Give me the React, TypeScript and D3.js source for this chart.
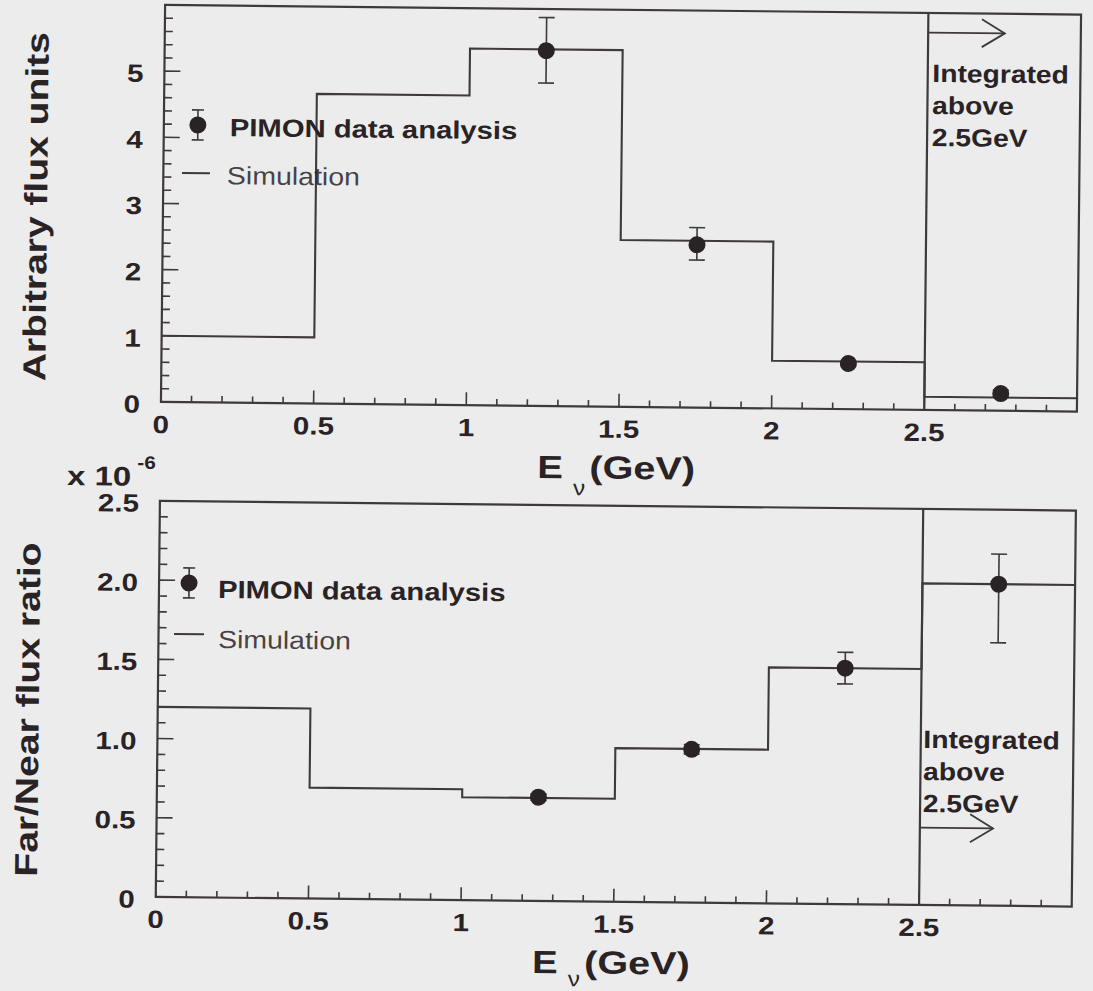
import React from 'react';
import * as d3 from 'd3';

// Energy binning (GeV); the last bin holds everything integrated above 2.5 GeV
const binEdges = [0, 0.5, 1.0, 1.5, 2.0, 2.5, 3.0];
const dataEnergies = [1.25, 1.75, 2.25, 2.75];

// Upper panel: arbitrary flux units
const fluxSimulation = [1.0, 4.68, 5.39, 2.52, 0.72, 0.2];
const fluxData = [5.37, 2.46, 0.69, 0.26];
const fluxErrUp = [0.5, 0.26, 0.03, 0.05];
const fluxErrDown = [0.49, 0.23, 0.03, 0.05];

// Lower panel: far/near flux ratio (x 10^-6)
const ratioSimulation = [1.2, 0.7, 0.65, 0.97, 1.49, 2.03];
const ratioData = [0.655, 0.967, 1.49, 2.03];
const ratioErrUp = [0.02, 0.03, 0.1, 0.19];
const ratioErrDown = [0.02, 0.03, 0.1, 0.37];

// Axis tick labels
const xTickValues = [0, 0.5, 1, 1.5, 2, 2.5];
const xTickLabels = ['0', '0.5', '1', '1.5', '2', '2.5'];
const fluxTickValues = [0, 1, 2, 3, 4, 5];
const fluxTickLabels = ['0', '1', '2', '3', '4', '5'];
const ratioTickValues = [0, 0.5, 1, 1.5, 2, 2.5];
const ratioTickLabels = ['0', '0.5', '1.0', '1.5', '2.0', '2.5'];

const W = 1093;
const H = 991;
const BG = '#ececec';
const INK = '#2a2326';
const LINE = '#3f393c';
const FONT = "'Liberation Sans', Arial, Helvetica, sans-serif";
const SX = 1.18; // wide Helvetica-style lettering

const X0 = 160;
const X1 = 1076;

const xScale = d3.scaleLinear().domain([0, 3]).range([X0, X1]);

type TProps = {
  x: number;
  y: number;
  size: number;
  sx?: number;
  anchor?: 'start' | 'middle' | 'end';
  weight?: string;
  rotate?: number;
  opacity?: number;
  children: React.ReactNode;
};

// Text drawn with a horizontal stretch about its anchor point
function T({ x, y, size, sx = SX, anchor = 'start', weight = 'bold', rotate = 0, opacity = 1, children }: TProps) {
  const tf = `translate(${x},${y})${rotate ? ` rotate(${rotate})` : ''} scale(${sx},1)`;
  return (
    <text transform={tf} textAnchor={anchor} fontSize={size} fontWeight={weight} fontFamily={FONT} fill={INK} fillOpacity={opacity}>
      {children}
    </text>
  );
}

type PanelProps = {
  top: number;
  bottom: number;
  yMax: number;
  minorCount: number;
  tickValues: number[];
  tickLabels: string[];
  majorStep: number;
  sim: number[];
  data: number[];
  errUp: number[];
  errDown: number[];
  legend: { mx: number; my: number; tx: number; ty: number; lx0: number; lx1: number; ly: number; sx: number; sy: number };
  note: { x: number; y: number[]; ay: number; ax1: number };
  nuDrop: number;
};

function Panel(p: PanelProps) {
  const yScale = d3.scaleLinear().domain([0, p.yMax]).range([p.bottom, p.top]);

  const histPoints: [number, number][] = p.sim.map((v, i) => [binEdges[i], v]);
  histPoints.push([binEdges[binEdges.length - 1], p.sim[p.sim.length - 1]]);
  const histPath = d3
    .line<[number, number]>()
    .x((d) => xScale(d[0]))
    .y((d) => yScale(d[1]))
    .curve(d3.curveStepAfter)(histPoints) as string;

  const xMinor = xScale.ticks(30);
  const yMinor = yScale.ticks(p.minorCount);
  const isMajor = (v: number, step: number) => Math.abs(v / step - Math.round(v / step)) < 1e-6;

  const divider = xScale(2.5);
  const L = p.legend;
  const N = p.note;

  return (
    <g>
      {/* frame */}
      <rect x={X0} y={p.top} width={X1 - X0} height={p.bottom - p.top} fill="none" stroke={LINE} strokeWidth={2.2} />
      <line x1={divider} x2={divider} y1={p.top} y2={p.bottom} stroke={LINE} strokeWidth={2.2} />

      {/* x ticks (inside, pointing up) */}
      {xMinor.map((v) => {
        if (v <= 0 || v >= 3) return null;
        const major = isMajor(v, 0.5);
        const x = xScale(v);
        return <line key={'xt' + v} x1={x} x2={x} y1={p.bottom} y2={p.bottom - (major ? 13 : 6.5)} stroke={LINE} strokeWidth={1.6} />;
      })}
      {/* y ticks (inside, pointing right) */}
      {yMinor.map((v) => {
        if (v <= 0 || v >= p.yMax) return null;
        const major = isMajor(v, p.majorStep);
        const y = yScale(v);
        return <line key={'yt' + v} x1={X0} x2={X0 + (major ? 16 : 8)} y1={y} y2={y} stroke={LINE} strokeWidth={1.6} />;
      })}

      {/* tick labels */}
      {xTickValues.map((v, i) => (
        <T key={'xl' + v} x={xScale(v)} y={p.bottom + 31} size={25} anchor="middle">
          {xTickLabels[i]}
        </T>
      ))}
      {p.tickValues.map((v, i) => (
        <T key={'yl' + v} x={X0 - 21} y={yScale(v) + 11} size={25} anchor="end">
          {p.tickLabels[i]}
        </T>
      ))}

      {/* simulation histogram */}
      <path d={histPath} fill="none" stroke={LINE} strokeWidth={2.1} />

      {/* data points with error bars */}
      {p.data.map((v, i) => {
        const cx = xScale(dataEnergies[i]);
        const cy = yScale(v);
        const yHi = yScale(v + p.errUp[i]);
        const yLo = yScale(v - p.errDown[i]);
        return (
          <g key={'pt' + i}>
            <line x1={cx} x2={cx} y1={yHi} y2={yLo} stroke={LINE} strokeWidth={1.6} />
            <line x1={cx - 8} x2={cx + 8} y1={yHi} y2={yHi} stroke={LINE} strokeWidth={1.6} />
            <line x1={cx - 8} x2={cx + 8} y1={yLo} y2={yLo} stroke={LINE} strokeWidth={1.6} />
            <circle cx={cx} cy={cy} r={8.5} fill={INK} />
          </g>
        );
      })}

      {/* legend */}
      <line x1={L.mx} x2={L.mx} y1={L.my - 15} y2={L.my + 15} stroke={LINE} strokeWidth={1.6} />
      <line x1={L.mx - 6} x2={L.mx + 6} y1={L.my - 15} y2={L.my - 15} stroke={LINE} strokeWidth={1.6} />
      <line x1={L.mx - 6} x2={L.mx + 6} y1={L.my + 15} y2={L.my + 15} stroke={LINE} strokeWidth={1.6} />
      <circle cx={L.mx} cy={L.my} r={8.5} fill={INK} />
      <T x={L.tx} y={L.ty} size={25} sx={1.17}>
        PIMON data analysis
      </T>
      <line x1={L.lx0} x2={L.lx1} y1={L.ly} y2={L.ly} stroke={LINE} strokeWidth={2} />
      <T x={L.sx} y={L.sy} size={25} sx={1.14} weight="normal" opacity={0.85}>
        Simulation
      </T>

      {/* overflow-bin annotation */}
      {['Integrated', 'above', '2.5GeV'].map((t, i) => (
        <T key={t} x={N.x} y={N.y[i]} size={25} sx={1.13}>
          {t}
        </T>
      ))}
      <line x1={divider} x2={N.ax1} y1={N.ay} y2={N.ay} stroke={LINE} strokeWidth={1.8} />
      <polyline
        points={`${N.ax1 - 23},${N.ay - 14} ${N.ax1},${N.ay} ${N.ax1 - 23},${N.ay + 14}`}
        fill="none"
        stroke={LINE}
        strokeWidth={1.8}
      />

      {/* x axis title */}
      <T x={537} y={p.bottom + 72} size={32} sx={1.2}>
        E
      </T>
      <T x={573} y={p.bottom + 72 + p.nuDrop} size={22} sx={1.1} weight="normal">
        ν
      </T>
      <T x={589} y={p.bottom + 72} size={32} sx={1.24}>
        (GeV)
      </T>
    </g>
  );
}

export default function App() {
  const topPanel = { top: 9, bottom: 406 };
  const botPanel = { top: 505, bottom: 901 };
  return (
    <svg
      width={W}
      height={H}
      viewBox={`0 0 ${W} ${H}`}
      style={{ position: 'absolute', left: 0, top: 0, display: 'block' }}
    >
      <rect x={0} y={0} width={W} height={H} fill={BG} />
      <g transform="rotate(0.6 546 495)">
        <Panel
          top={topPanel.top}
          bottom={topPanel.bottom}
          yMax={6}
          minorCount={30}
          majorStep={1}
          tickValues={fluxTickValues}
          tickLabels={fluxTickLabels}
          sim={fluxSimulation}
          data={fluxData}
          errUp={fluxErrUp}
          errDown={fluxErrDown}
          legend={{ mx: 194, my: 128.6, tx: 226, ty: 139.5, lx0: 178.6, lx1: 206.6, ly: 176.8, sx: 223.6, sy: 187.5 }}
          note={{ x: 928, y: [78, 110, 142], ay: 28.6, ax1: 1000 }}
          nuDrop={17}
        />
        <Panel
          top={botPanel.top}
          bottom={botPanel.bottom}
          yMax={2.5}
          minorCount={25}
          majorStep={0.5}
          tickValues={ratioTickValues}
          tickLabels={ratioTickLabels}
          sim={ratioSimulation}
          data={ratioData}
          errUp={ratioErrUp}
          errDown={ratioErrDown}
          legend={{ mx: 190, my: 586.7, tx: 219, ty: 601.5, lx0: 175.5, lx1: 205.5, ly: 637.9, sx: 219.5, sy: 651.5 }}
          note={{ x: 926, y: [744, 776, 808], ay: 823.7, ax1: 996.5 }}
          nuDrop={13}
        />

        {/* y axis titles */}
        <T x={44} y={212} size={32} sx={1.22} anchor="middle" rotate={-90}>
          Arbitrary flux units
        </T>
        <T x={41} y={715} size={32} sx={1.22} anchor="middle" rotate={-90}>
          Far/Near flux ratio
        </T>

        {/* exponent of the lower y axis */}
        <T x={67} y={490} size={27} sx={1.22}>
          x 10
        </T>
        <T x={137} y={473} size={18} sx={1.15}>
          -6
        </T>
      </g>
    </svg>
  );
}
